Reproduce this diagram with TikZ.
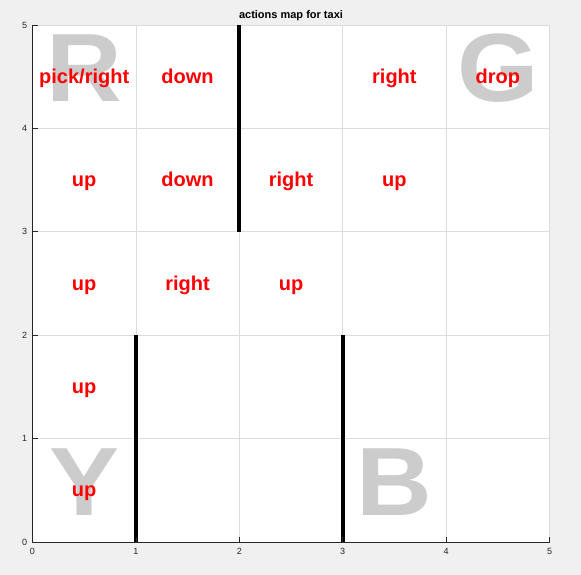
\documentclass[tikz,border=0pt]{standalone}
\usepackage{fontspec}
\setmainfont{Liberation Sans}
\definecolor{figbg}{HTML}{F0F0F0}
\definecolor{gridc}{HTML}{DCDCDC}
\definecolor{axisc}{HTML}{262626}
\definecolor{bigc}{HTML}{CCCCCC}
\tikzset{
  bigletter/.style={inner sep=0pt, anchor=center, text=bigc, font=\fontsize{97}{97}\selectfont\bfseries},
  act/.style={inner sep=0pt, anchor=base, text=red, font=\fontsize{20}{20}\selectfont\bfseries},
  wall/.style={line width=4.2pt, black},
  gridline/.style={gridc, line width=0.6pt},
  axisline/.style={axisc, line width=0.8pt},
  ticklab/.style={inner sep=0pt, text=axisc, font=\fontsize{9}{9}\selectfont},
}
\newcommand{\widen}[1]{\scalebox{1.08}[1]{#1}}
\begin{document}
\begin{tikzpicture}[x=103.4pt, y=103.4pt]
\useasboundingbox[fill=figbg] (-32.5pt,-33pt) rectangle (548.5pt,542pt);
\fill[white] (0,0) rectangle (5,5);
% grid
\foreach \i in {1,...,5} {
  \draw[gridline] (\i,0) -- (\i,5);
  \draw[gridline] (0,\i) -- (5,\i);
}
% big location letters
\node[bigletter] (locR) at (0.5,4.58) {\widen{R}};
\node[bigletter] (locG) at (4.5,4.58) {\widen{G}};
\node[bigletter] (locY) at (0.5,0.58) {\widen{Y}};
\node[bigletter] (locB) at (3.5,0.58) {\widen{B}};
% walls
\draw[wall] (2,3) -- (2,5);
\draw[wall] (1,0) -- (1,2);
\draw[wall] (3,0) -- (3,2);
% actions
\node[act] (a40) at (0.5,4.437) {pick/right};
\node[act] (a41) at (1.5,4.437) {down};
\node[act] (a43) at (3.5,4.437) {right};
\node[act] (a44) at (4.5,4.437) {drop};
\node[act] (a30) at (0.5,3.437) {up};
\node[act] (a31) at (1.5,3.437) {down};
\node[act] (a32) at (2.5,3.437) {right};
\node[act] (a33) at (3.5,3.437) {up};
\node[act] (a20) at (0.5,2.437) {up};
\node[act] (a21) at (1.5,2.437) {right};
\node[act] (a22) at (2.5,2.437) {up};
\node[act] (a10) at (0.5,1.437) {up};
\node[act] (a00) at (0.5,0.437) {up};
% axes
\draw[axisline] (0,5) -- (0,0) -- (5,0);
\foreach \i in {0,...,5} {
  \draw[axisline] (0,\i) -- ++(5pt,0);
  \draw[axisline] (\i,0) -- ++(0,5pt);
  \node[ticklab, anchor=east] (yl\i) at ([xshift=-5.2pt]0,\i) {\i};
  \node[ticklab, anchor=north] (xl\i) at ([yshift=-6pt]\i,0) {\i};
}
% title
\node[inner sep=0pt, anchor=base, text=black, font=\fontsize{11}{11}\selectfont\bfseries] (title) at ([yshift=6.5pt]2.5,5) {actions map for taxi};
\end{tikzpicture}
\end{document}
